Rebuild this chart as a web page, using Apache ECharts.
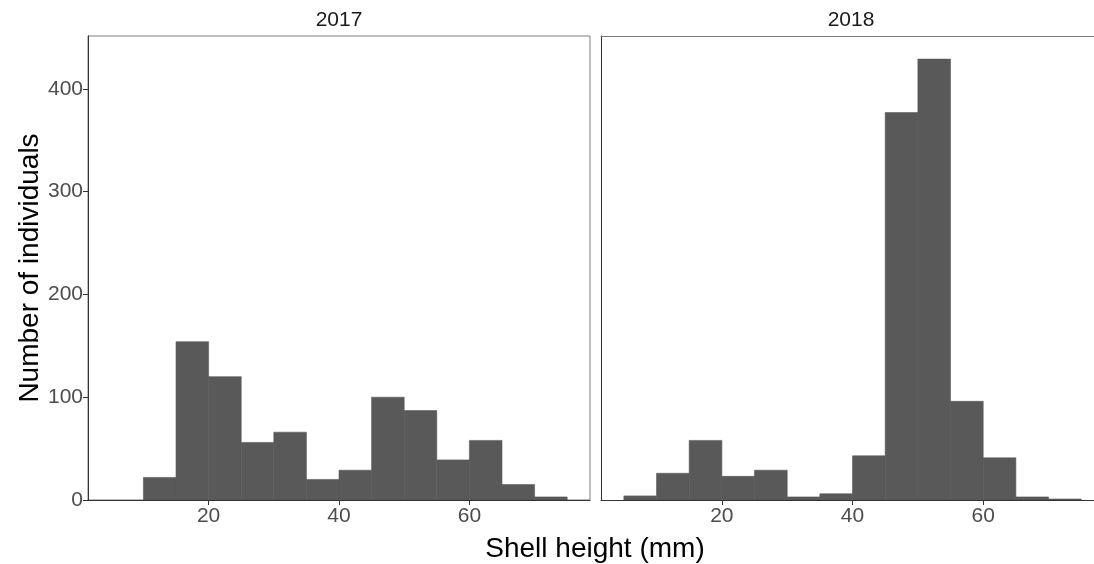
<!DOCTYPE html>
<html>
<head>
<meta charset="utf-8">
<title>Shell height histograms</title>
<script src="https://cdn.jsdelivr.net/npm/echarts@6/dist/echarts.min.js"></script>
<style>
  html, body { margin: 0; padding: 0; background: #ffffff; }
  #chart { width: 1094px; height: 564px; }
</style>
</head>
<body>
<div id="chart"></div>
<script>
// Histogram bins (5 mm wide) and counts per year
const binWidth = 5;
const years = ['2017', '2018'];
const binStarts2017 = [10, 15, 20, 25, 30, 35, 40, 45, 50, 55, 60, 65, 70];
const counts2017 = [22, 154, 120, 56, 66, 20, 29, 100, 87, 39, 58, 15, 3];
const binStarts2018 = [5, 10, 15, 20, 25, 30, 35, 40, 45, 50, 55, 60, 65, 70];
const counts2018 = [4, 26, 58, 23, 29, 3, 6, 43, 377, 429, 96, 41, 3, 1];
const xTicks = [20, 40, 60];
const yTicks = [0, 100, 200, 300, 400];

const FONT = "'Liberation Sans', Arial, sans-serif";
const BAR = '#595959';
const FRAME = '#7a7a7a';
const AXIS = '#333333';

function toBins(starts, counts) {
  return starts.map((s, i) => [s, s + binWidth, counts[i]]);
}

function renderBin(params, api) {
  const p0 = api.coord([api.value(0), 0]);
  const p1 = api.coord([api.value(1), api.value(2)]);
  return {
    type: 'rect',
    shape: { x: p0[0], y: p1[1], width: p1[0] - p0[0], height: p0[1] - p1[1] },
    style: { fill: BAR, stroke: BAR, lineWidth: 0.6 }
  };
}

const chart = echarts.init(document.getElementById('chart'), null, { renderer: 'canvas' });

// 2017 panel is fully framed; the 2018 panel runs off the right edge,
// so its top edge is drawn by a bare top axis instead of a grid border
const grids = [
  { left: 88, top: 36, width: 502, height: 464, show: true, borderColor: FRAME, borderWidth: 1 },
  { left: 601, top: 36, right: 0, height: 464, show: false }
];

function xAxis(i, max) {
  return {
    type: 'value', gridIndex: i, min: 1.5, max: max,
    splitLine: { show: false },
    axisLine: { show: true, onZero: false, lineStyle: { color: AXIS, width: 1 } },
    axisTick: { show: true, length: 5, customValues: xTicks, lineStyle: { color: AXIS } },
    axisLabel: { customValues: xTicks, color: '#4d4d4d', fontSize: 21, fontFamily: FONT, margin: 6 }
  };
}

function yAxis(i) {
  const labelled = i === 0;
  return {
    type: 'value', gridIndex: i, min: 0, max: 451.5,
    splitLine: { show: false },
    axisLine: { show: true, lineStyle: { color: AXIS, width: 1 } },
    axisTick: { show: labelled, length: 5, customValues: yTicks, lineStyle: { color: AXIS } },
    axisLabel: { show: labelled, customValues: yTicks, color: '#4d4d4d', fontSize: 21, fontFamily: FONT, margin: 5 }
  };
}

const option = {
  animation: false,
  backgroundColor: '#ffffff',
  grid: grids,
  xAxis: [
    xAxis(0, 78.5),
    xAxis(1, 76.96),
    { type: 'value', gridIndex: 1, position: 'top', min: 1.5, max: 76.96,
      splitLine: { show: false }, axisTick: { show: false }, axisLabel: { show: false },
      axisLine: { show: true, onZero: false, lineStyle: { color: FRAME, width: 1 } } }
  ],
  yAxis: [yAxis(0), yAxis(1)],
  series: [
    { type: 'custom', name: years[0], xAxisIndex: 0, yAxisIndex: 0, clip: true,
      renderItem: renderBin, encode: { x: [0, 1], y: 2 }, data: toBins(binStarts2017, counts2017) },
    { type: 'custom', name: years[1], xAxisIndex: 1, yAxisIndex: 1, clip: true,
      renderItem: renderBin, encode: { x: [0, 1], y: 2 }, data: toBins(binStarts2018, counts2018) }
  ],
  graphic: [
    { type: 'text', x: 339, y: 20, style: { text: years[0], align: 'center', verticalAlign: 'middle', fill: '#1a1a1a', font: '21px ' + FONT } },
    { type: 'text', x: 851, y: 20, style: { text: years[1], align: 'center', verticalAlign: 'middle', fill: '#1a1a1a', font: '21px ' + FONT } },
    { type: 'text', x: 30, y: 268, rotation: Math.PI / 2, style: { text: 'Number of individuals', align: 'center', verticalAlign: 'middle', fill: '#000000', font: '28px ' + FONT } },
    { type: 'text', x: 595, y: 549, style: { text: 'Shell height (mm)', align: 'center', verticalAlign: 'middle', fill: '#000000', font: '28px ' + FONT } }
  ]
};

chart.setOption(option);
</script>
</body>
</html>
